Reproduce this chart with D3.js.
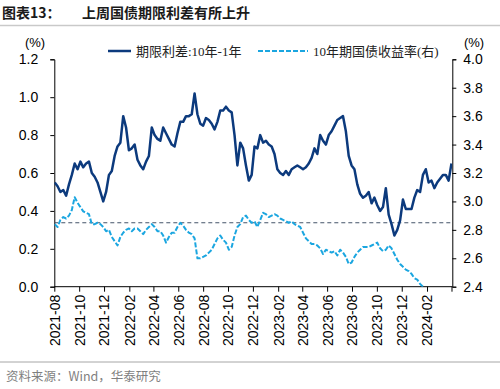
<!DOCTYPE html>
<html>
<head>
<meta charset="utf-8">
<script src="https://cdn.jsdelivr.net/npm/d3@7"></script>
<style>
  body { margin: 0; background: #fff; }
  svg { display: block; }
</style>
</head>
<body>
<div id="chart"></div>
<script>
// weekly observations starting 2021-08-02
var startDate = new Date(2021, 7, 2);

// 期限利差:10年-1年 (left axis, %)
var spread = [
  0.55, 0.53, 0.50, 0.51, 0.48, 0.54, 0.59, 0.65, 0.62, 0.66,
  0.63, 0.65, 0.66, 0.60, 0.58, 0.55, 0.50, 0.45, 0.50, 0.59,
  0.61, 0.69, 0.74, 0.76, 0.90, 0.84, 0.72, 0.73, 0.75, 0.67,
  0.64, 0.62, 0.66, 0.69, 0.84, 0.80, 0.78, 0.77, 0.84, 0.81,
  0.78, 0.75, 0.74, 0.81, 0.87, 0.87, 0.90, 0.90, 0.91, 1.02,
  0.91, 0.86, 0.85, 0.89, 0.88, 0.86, 0.83, 0.87, 0.93, 0.93,
  0.95, 0.93, 0.92, 0.80, 0.64, 0.76, 0.73, 0.64, 0.56, 0.59,
  0.74, 0.73, 0.80, 0.76, 0.77, 0.75, 0.74, 0.70, 0.62, 0.60,
  0.59, 0.61, 0.59, 0.62, 0.63, 0.64, 0.63, 0.62, 0.63, 0.65,
  0.68, 0.73, 0.70, 0.80, 0.77, 0.75, 0.80, 0.82, 0.85, 0.88,
  0.89, 0.90, 0.82, 0.69, 0.64, 0.62, 0.54, 0.49, 0.47, 0.48,
  0.50, 0.44, 0.47, 0.43, 0.40, 0.42, 0.52, 0.38, 0.33, 0.27,
  0.30, 0.35, 0.46, 0.41, 0.41, 0.41, 0.47, 0.51, 0.50, 0.59,
  0.62, 0.55, 0.56, 0.52, 0.55, 0.57, 0.59, 0.59, 0.56, 0.65
];

// 10年期国债收益率 (right axis, %)
var yield10 = [
  2.84, 2.82, 2.87, 2.89, 2.88, 2.90, 2.94, 3.03, 2.99, 2.96,
  2.93, 2.92, 2.91, 2.84, 2.84, 2.85, 2.84, 2.82, 2.79, 2.80,
  2.75, 2.72, 2.69, 2.75, 2.78, 2.80, 2.81, 2.79, 2.81, 2.81,
  2.79, 2.77, 2.80, 2.82, 2.84, 2.82, 2.79, 2.79, 2.76, 2.71,
  2.75, 2.78, 2.78, 2.82, 2.85, 2.83, 2.80, 2.78, 2.77, 2.74,
  2.60, 2.60, 2.61, 2.62, 2.64, 2.66, 2.70, 2.74, 2.76, 2.73,
  2.71, 2.66, 2.68, 2.76, 2.82, 2.84, 2.89, 2.90, 2.87, 2.85,
  2.86, 2.82, 2.87, 2.92, 2.91, 2.89, 2.90, 2.91, 2.90, 2.88,
  2.87, 2.86, 2.85, 2.86, 2.84, 2.83, 2.82, 2.78, 2.74, 2.72,
  2.70, 2.70, 2.69, 2.67, 2.63, 2.66, 2.65, 2.64, 2.65, 2.62,
  2.66, 2.64, 2.61, 2.56, 2.57, 2.61, 2.64, 2.66, 2.68, 2.68,
  2.68, 2.69, 2.70, 2.71, 2.67, 2.65, 2.66, 2.69, 2.67, 2.63,
  2.59, 2.56, 2.54, 2.52, 2.51, 2.49, 2.46, 2.45, 2.42, 2.40,
  2.37, 2.36, 2.35, 2.33, 2.32, 2.31, 2.30, 2.31, 2.30, 2.29
];

var refYield = 2.85;

var leftTicks = [0.0, 0.2, 0.4, 0.6, 0.8, 1.0, 1.2];
var rightTicks = [2.4, 2.6, 2.8, 3.0, 3.2, 3.4, 3.6, 3.8, 4.0];
var monthTicks = ["2021-08","2021-10","2021-12","2022-02","2022-04","2022-06","2022-08",
                  "2022-10","2022-12","2023-02","2023-04","2023-06","2023-08","2023-10",
                  "2023-12","2024-02"];

var legendNames = ["期限利差:10年-1年", "10年期国债收益率(右)"];
var titleText = "上周国债期限利差有所上升";
var sourceText = "资料来源：Wind，华泰研究";

function drawChart(){
    var width = 500, height = 389;
    var pLeft = 54.3, pRight = 452.3, pTop = 59.3, pBottom = 286.7;

    var dates = spread.map(function(d, i){ return d3.timeDay.offset(startDate, 7*i); });
    var parseMonth = d3.timeParse("%Y-%m");

    var svg = d3.select("#chart").append("svg")
        .attr("width", width).attr("height", height);

    var x = d3.scaleTime().domain([new Date(2021, 7, 1), new Date(2024, 3, 3)]).range([pLeft, pRight]);
    var yL = d3.scaleLinear().domain([0, 1.2]).range([pBottom, pTop]);
    var yR = d3.scaleLinear().domain([2.4, 4.0]).range([pBottom, pTop]);

    // title
    svg.append("text").attr("x", 2).attr("y", 18)
        .style("font-family", "'Noto Sans CJK SC', sans-serif").style("font-size", "14px")
        .style("font-weight", "bold").style("fill", "#1a1a1a")
        .text("图表13：");
    svg.append("text").attr("x", 82).attr("y", 18)
        .style("font-family", "'Noto Sans CJK SC', sans-serif").style("font-size", "14px")
        .style("font-weight", "bold").style("fill", "#1a1a1a")
        .text(titleText);
    svg.append("line").attr("x1", 0).attr("x2", width).attr("y1", 25.5).attr("y2", 25.5)
        .style("stroke", "#c9c9c9").style("stroke-width", 1.5);

    // clip
    svg.append("clipPath").attr("id", "plotclip").append("rect")
        .attr("x", pLeft).attr("y", pTop - 5).attr("width", pRight - pLeft).attr("height", pBottom - pTop + 5);

    // axes
    var axisFont = "'Liberation Sans', Arial, sans-serif";

    var yAxisL = d3.axisLeft(yL).tickValues(leftTicks).tickFormat(d3.format(".1f")).tickSize(4).tickPadding(12);
    var gL = svg.append("g").attr("transform", "translate(" + pLeft + ",0)").call(yAxisL);

    var yAxisR = d3.axisRight(yR).tickValues(rightTicks).tickFormat(d3.format(".1f")).tickSize(4).tickPadding(7);
    var gR = svg.append("g").attr("transform", "translate(" + pRight + ",0)").call(yAxisR);

    var xTickDates = monthTicks.map(parseMonth).concat([new Date(2024, 3, 1)]);
    var xAxis = d3.axisBottom(x).tickValues(xTickDates)
        .tickFormat(function(d){ var s = d3.timeFormat("%Y-%m")(d); return monthTicks.indexOf(s) >= 0 ? s : ""; })
        .tickSize(5).tickPadding(0);
    var gX = svg.append("g").attr("transform", "translate(0," + pBottom + ")").call(xAxis);
    gX.selectAll("text")
        .attr("transform", "rotate(-90)")
        .attr("x", -8).attr("y", 0).attr("dy", "0.35em")
        .style("text-anchor", "end");

    [gL, gR, gX].forEach(function(g){
        g.select(".domain").style("stroke", "#000").style("stroke-width", 1);
        g.selectAll(".tick line").style("stroke", "#000");
        g.selectAll("text").style("font-family", axisFont).style("font-size", "14px").style("fill", "#000");
    });
    gX.select(".domain").attr("d", "M" + pLeft + ",0H" + pRight);

    // unit labels
    svg.append("text").attr("x", 35).attr("y", 47).style("text-anchor", "middle")
        .style("font-family", axisFont).style("font-size", "13px").text("(%)");
    svg.append("text").attr("x", 474).attr("y", 47).style("text-anchor", "middle")
        .style("font-family", axisFont).style("font-size", "13px").text("(%)");

    var plot = svg.append("g").attr("clip-path", "url(#plotclip)");

    // reference line
    plot.append("line")
        .attr("x1", pLeft).attr("x2", pRight)
        .attr("y1", yR(refYield)).attr("y2", yR(refYield))
        .style("stroke", "#44546a").style("stroke-width", 1.2)
        .style("stroke-dasharray", "4,3");

    var lineL = d3.line().x(function(d, i){ return x(dates[i]); }).y(function(d){ return yL(d); });
    var lineR = d3.line().x(function(d, i){ return x(dates[i]); }).y(function(d){ return yR(d); });

    plot.append("path").datum(yield10).attr("d", lineR)
        .style("fill", "none").style("stroke", "#1ba6e0").style("stroke-width", 2)
        .style("stroke-dasharray", "5,2").style("stroke-linejoin", "round");

    plot.append("path").datum(spread).attr("d", lineL)
        .style("fill", "none").style("stroke", "#0c3a7d").style("stroke-width", 2.5)
        .style("stroke-linejoin", "round");

    // legend
    var legFont = "'Liberation Serif', 'Times New Roman', 'Noto Sans CJK SC', serif";
    svg.append("line").attr("x1", 108).attr("x2", 131).attr("y1", 51).attr("y2", 51)
        .style("stroke", "#0c3a7d").style("stroke-width", 2.5);
    svg.append("text").attr("x", 136).attr("y", 55.5)
        .style("font-family", legFont).style("font-size", "13px").style("fill", "#222")
        .text(legendNames[0]);
    svg.append("line").attr("x1", 258).attr("x2", 308).attr("y1", 51).attr("y2", 51)
        .style("stroke", "#1ba6e0").style("stroke-width", 2).style("stroke-dasharray", "5,2");
    svg.append("text").attr("x", 313).attr("y", 55.5)
        .style("font-family", legFont).style("font-size", "13px").style("fill", "#222")
        .text(legendNames[1]);

    // source
    svg.append("line").attr("x1", 0).attr("x2", width).attr("y1", 362).attr("y2", 362)
        .style("stroke", "#a6a6a6").style("stroke-width", 1);
    svg.append("text").attr("x", 6).attr("y", 381)
        .style("font-family", "'Noto Sans CJK SC', sans-serif").style("font-size", "12.5px")
        .style("fill", "#7f7f7f")
        .text(sourceText);
}

drawChart();
</script>
</body>
</html>
